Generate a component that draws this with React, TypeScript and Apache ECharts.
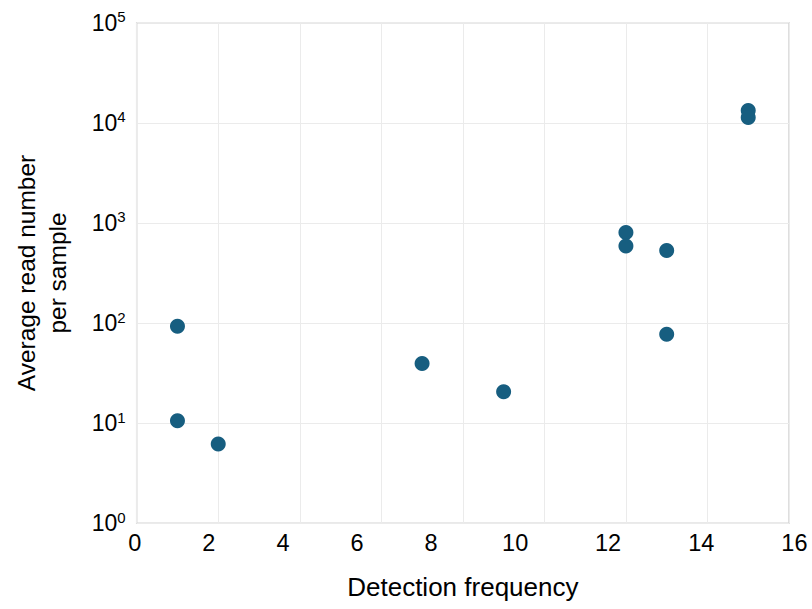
import React, { useEffect, useRef } from "react";
import * as echarts from "echarts";

const detectionFrequency = [1, 1, 2, 7, 9, 12, 12, 13, 13, 15, 15];
const averageReads = [93, 10.6, 6.2, 39.5, 20.6, 802, 590, 530, 77.5, 13300, 11270];
const xTicks = [0, 2, 4, 6, 8, 10, 12, 14, 16];
// horizontal shift of each x tick label (px), as in the reference
const xTickShift = [-2, -9.4, -16.7, -24.4, -31.8, -29.2, -17.9, -6.2, 5.4];

const FONT = "'Liberation Sans', Arial, sans-serif";

export default function App() {
  const ref = useRef<HTMLDivElement>(null);
  useEffect(() => {
    if (!ref.current) return;
    const chart = echarts.init(ref.current, undefined, { renderer: "svg" });
    const rich: Record<string, any> = {};
    xTicks.forEach((t, i) => {
      const d = xTickShift[i];
      rich["x" + t] = {
        fontSize: 23.5,
        fontFamily: FONT,
        color: "#000",
        padding: d < 0 ? [0, -2 * d, 0, 0] : [0, 0, 0, 2 * d],
      };
    });
    chart.setOption({
      animation: false,
      backgroundColor: "#fff",
      grid: {
        left: 136.7,
        right: 23,
        top: 22.7,
        bottom: 85.7,
        show: true,
        borderColor: "#d4d4d4",
        borderWidth: 1.5,
      },
      xAxis: {
        type: "value",
        min: 0,
        max: 16,
        interval: 2,
        name: "Detection frequency",
        nameLocation: "middle",
        nameGap: 51,
        nameTextStyle: { fontSize: 26, fontFamily: FONT, color: "#000" },
        axisLine: { show: false },
        axisTick: { show: false },
        splitLine: { show: true, lineStyle: { color: "#ebebeb", width: 1 } },
        axisLabel: {
          margin: 8,
          formatter: (v: number) => `{x${v}|${v}}`,
          rich,
        },
      },
      yAxis: {
        type: "log",
        logBase: 10,
        min: 1,
        max: 100000,
        name: "Average read number\nper sample",
        nameLocation: "middle",
        nameGap: 64,
        nameTextStyle: {
          fontSize: 24.5,
          fontFamily: FONT,
          color: "#000",
          lineHeight: 31,
        },
        axisLine: { show: false },
        axisTick: { show: false },
        splitLine: { show: true, lineStyle: { color: "#ebebeb", width: 1 } },
        axisLabel: {
          margin: 11,
          formatter: (v: number) => {
            const e = Math.round(Math.log10(v));
            return `{b|10}{s|${e}}`;
          },
          rich: {
            b: { fontSize: 23, fontFamily: FONT, color: "#000" },
            s: {
              fontSize: 15,
              fontFamily: FONT,
              color: "#000",
              padding: [0, 0, 12, 0],
            },
          },
        },
      },
      series: [
        {
          type: "scatter",
          symbol: "circle",
          symbolSize: 15,
          itemStyle: { color: "#175e80", opacity: 1 },
          data: detectionFrequency.map((x, i) => [x, averageReads[i]]),
        },
      ],
    });
    return () => chart.dispose();
  }, []);
  return (
    <div
      ref={ref}
      style={{ position: "fixed", left: 0, top: 0, width: 812, height: 609 }}
    />
  );
}
